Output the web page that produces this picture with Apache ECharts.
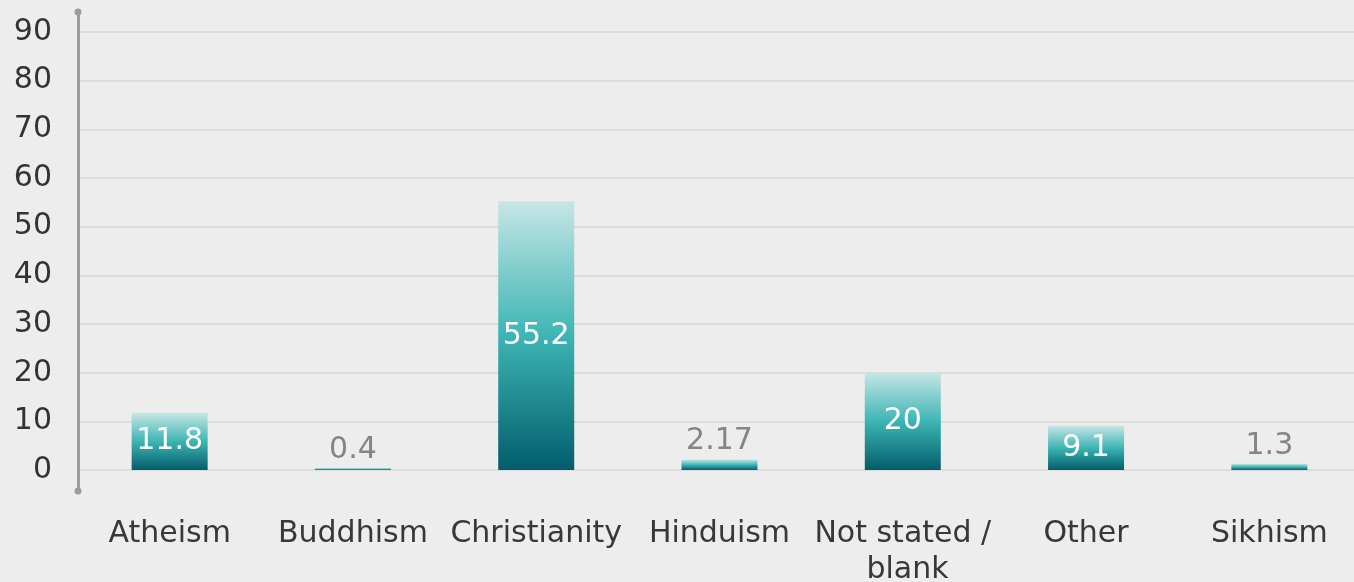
<!DOCTYPE html>
<html>
<head>
<meta charset="utf-8">
<style>
  html, body { margin: 0; padding: 0; background: #ededed; }
  #chart { width: 1354px; height: 582px; }
</style>
<script src="https://cdn.jsdelivr.net/npm/echarts@6/dist/echarts.min.js"></script>
</head>
<body>
<div id="chart"></div>
<script>
// Religion breakdown (%)
const categories = ['Atheism', 'Buddhism', 'Christianity', 'Hinduism', 'Not stated / blank', 'Other', 'Sikhism'];
const values = [11.8, 0.4, 55.2, 2.17, 20, 9.1, 1.3];
const yTicks = [0, 10, 20, 30, 40, 50, 60, 70, 80, 90];

const FONT = '"DejaVu Sans", "Open Sans", sans-serif';

const barGradient = new echarts.graphic.LinearGradient(0, 0, 0, 1, [
  { offset: 0, color: '#c6e6e6' },
  { offset: 0.5, color: '#3db5b4' },
  { offset: 1, color: '#025d6b' }
]);

// small bars get a grey label above, taller bars a white label inside
const barData = values.map(v => ({
  value: v,
  label: v > 5
    ? { position: 'inside', color: '#ffffff' }
    : { position: 'top', color: '#858585', distance: 3 }
}));

const chart = echarts.init(document.getElementById('chart'));
chart.setOption({
  backgroundColor: '#ededed',
  animation: false,
  grid: {
    left: 78, width: 1283, top: 12, bottom: 91,
    containLabel: false,
    outerBoundsMode: 'none'
  },
  xAxis: {
    type: 'category',
    data: categories,
    axisLine: { show: false },
    axisTick: { show: false },
    axisLabel: {
      interval: 0,
      margin: 25,
      width: 182,
      overflow: 'break',
      lineHeight: 36,
      fontSize: 30,
      fontFamily: FONT,
      color: '#383838'
    }
  },
  yAxis: {
    type: 'value',
    min: -4.3,
    max: 94.1,
    axisLine: {
      show: true,
      symbol: ['circle', 'circle'],
      symbolSize: [7, 7],
      lineStyle: { color: '#9c9c9c', width: 3 }
    },
    axisTick: { show: false, customValues: yTicks },
    axisLabel: {
      customValues: yTicks,
      margin: 26,
      fontSize: 30,
      fontFamily: FONT,
      color: '#333333'
    },
    splitLine: { show: true, lineStyle: { color: '#dcdcdc', width: 2 } }
  },
  series: [{
    type: 'bar',
    data: barData,
    barWidth: 76,
    itemStyle: { color: barGradient },
    label: {
      show: true,
      fontSize: 30,
      fontFamily: FONT
    }
  }]
});
</script>
</body>
</html>
